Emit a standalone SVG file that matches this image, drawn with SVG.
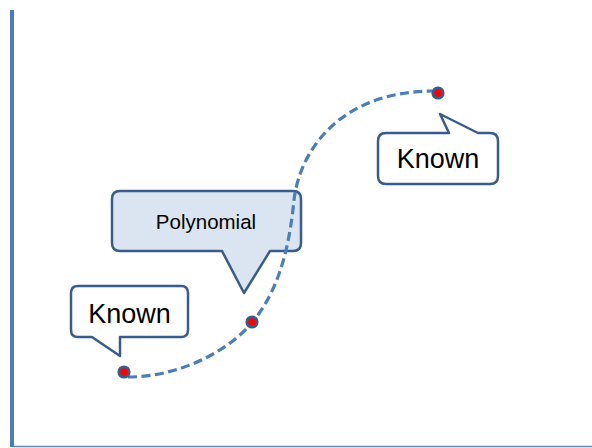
<svg xmlns="http://www.w3.org/2000/svg" width="592" height="448" viewBox="0 0 592 448">
<style>
.callout{fill:#ffffff;stroke:#385d8a;stroke-width:2.5;stroke-linejoin:round}
.poly{fill:#dbe5f1}
.lbl{font-family:"Liberation Sans",Arial,sans-serif;fill:#000000;text-anchor:middle}
.pt{fill:#ff0000;stroke:#385d8a;stroke-width:2.8}
.curve{fill:none;stroke:#4a7ebb;stroke-width:3.2;stroke-dasharray:9 4.5}
</style>
<rect x="10" y="10" width="4" height="437" fill="#4a7ebb"/>
<line x1="14" y1="446.5" x2="592" y2="446.5" stroke="#6a88b0" stroke-width="1.5"/>
<g id="known-bottom">
<path class="callout" d="M78,286 H181 Q188,286 188,293 V330 Q188,337 181,337 H120 V356 L92,337 H78 Q71,337 71,330 V293 Q71,286 78,286 Z"/>
<text class="lbl" x="129.5" y="323" font-size="27">Known</text>
</g>
<g id="polynomial">
<path class="callout poly" d="M120,191 H293 Q301,191 301,199 V243 Q301,251 293,251 H270 L244,293 L222,251 H120 Q112,251 112,243 V199 Q112,191 120,191 Z"/>
<text class="lbl" x="206" y="229" font-size="20.5">Polynomial</text>
</g>
<g id="known-top">
<path class="callout" d="M386,133 H449 L440,114 L478,133 H490 Q498,133 498,141 V176 Q498,184 490,184 H386 Q378,184 378,176 V141 Q378,133 386,133 Z"/>
<text class="lbl" x="438" y="168" font-size="27">Known</text>
</g>
<g id="connectors">
<path class="curve" d="M128,377 C180,377 235,350 260,312 C282,280 290,240 294,200 C300,150 340,92 432,91"/>
</g>
<g id="point-start"><circle class="pt" cx="124" cy="372" r="5.2"/></g>
<g id="point-mid"><circle class="pt" cx="252" cy="322" r="5.2"/></g>
<g id="point-end"><circle class="pt" cx="438" cy="93" r="5.2"/></g>
</svg>
